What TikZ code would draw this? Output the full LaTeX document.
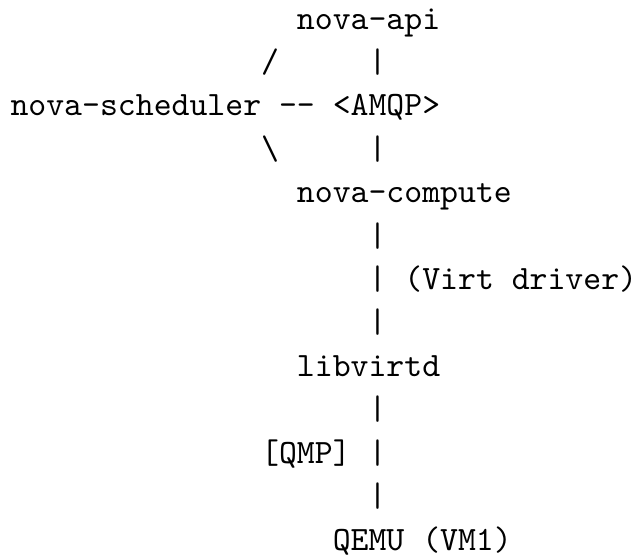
\documentclass[tikz,border=0pt]{standalone}
\usepackage{tikz}

\begin{document}
\begin{tikzpicture}[
  x=5.25pt, y=-12.73pt,
  ascii/.style={anchor=base west, inner sep=0pt, font=\ttfamily}
  ]
  \useasboundingbox (-0.55,-0.67) rectangle (35.03,12.10);
  % service names
  \node[ascii] (api) at (16,0) {nova-api};
  \node[ascii] (sched) at (0,2) {nova-scheduler};
  \node[ascii] (amqp) at (18,2) {<AMQP>};
  \node[ascii] (compute) at (16,4) {nova-compute};
  \node[ascii] (libvirt) at (16,8) {libvirtd};
  \node[ascii] (qemu) at (18,12) {QEMU (VM1)};
  % ascii links
  \node[ascii] (slashup) at (14,1) {/};
  \node[ascii] (dash) at (15,2) {--};
  \node[ascii] (slashdown) at (14,3) {\textbackslash};
  \foreach \r in {1,3,5,6,7,9,10,11}
    \node[ascii] (bar\r) at (20,\r) {|};
  % link labels
  \node[ascii] (virt) at (22,6) {(Virt driver)};
  \node[ascii] (qmp) at (14,10) {[QMP]};
\end{tikzpicture}
\end{document}
